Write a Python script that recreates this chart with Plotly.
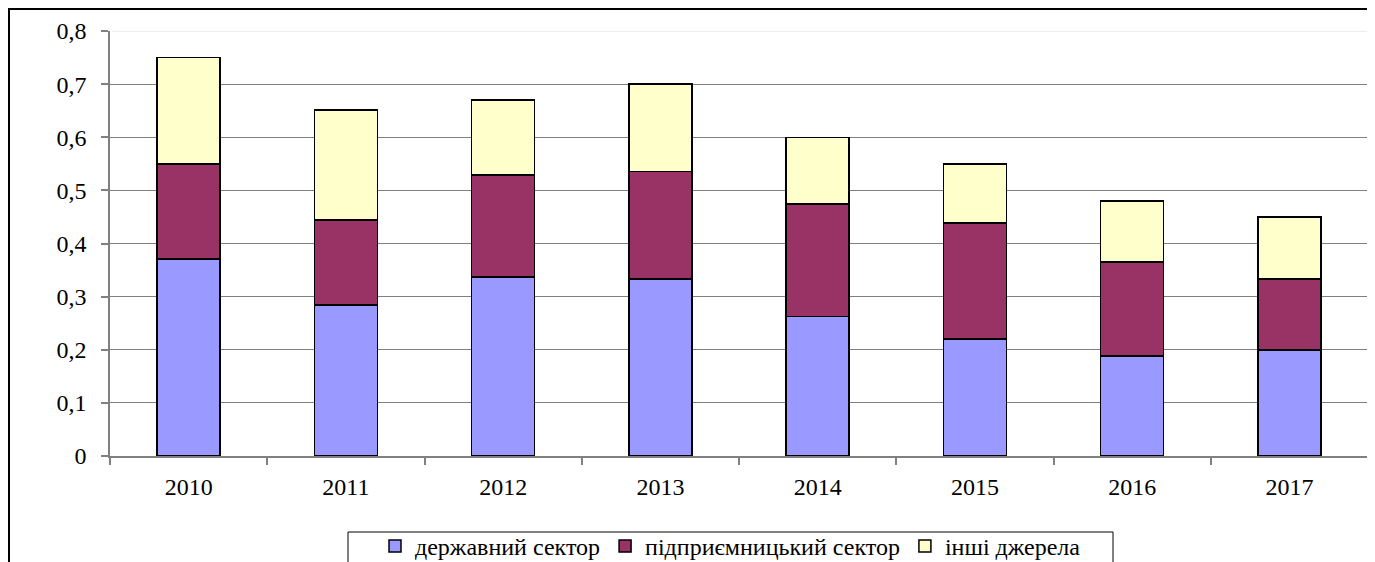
import plotly.graph_objects as go

years = ["2010", "2011", "2012", "2013", "2014", "2015", "2016", "2017"]
gov_sector = [0.371, 0.284, 0.337, 0.333, 0.263, 0.220, 0.188, 0.200]
business_sector = [0.179, 0.160, 0.192, 0.203, 0.211, 0.219, 0.177, 0.133]
other_sources = [0.200, 0.207, 0.141, 0.164, 0.126, 0.111, 0.115, 0.117]

series_names = ["державний сектор", "підприємницький сектор", "інші джерела"]
series_colors = ["#9999FF", "#993366", "#FFFFCC"]

y_tickvals = [0, 0.1, 0.2, 0.3, 0.4, 0.5, 0.6, 0.7, 0.8]
y_ticktext = ["0", "0,1", "0,2", "0,3", "0,4", "0,5", "0,6", "0,7", "0,8"]

FONT = "Liberation Serif"
FS = 24

fig = go.Figure()
for name, vals, col in zip(series_names, [gov_sector, business_sector, other_sources], series_colors):
    fig.add_trace(go.Bar(
        x=years, y=vals, name=name,
        marker=dict(color=col, line=dict(color="#000000", width=1.5)),
    ))

W, H = 1375, 562
L, R, T, B = 102, 15, 23, 114
pw, ph = W - L - R, H - T - B

def px_x(p):
    return (p - L) / pw

def px_y(p):
    return (H - B - p) / ph

fig.update_layout(
    width=W, height=H,
    margin=dict(l=L, r=R, t=T, b=B, autoexpand=False),
    barmode="stack",
    bargap=0.6,
    plot_bgcolor="white",
    paper_bgcolor="white",
    font=dict(family=FONT, size=FS, color="#000000"),
    showlegend=True,
    legend=dict(
        orientation="h",
        x=px_x(722.5), xanchor="center",
        y=px_y(516), yanchor="top",
        borderwidth=0,
        bgcolor="rgba(0,0,0,0)",
        font=dict(family=FONT, size=FS, color="#000000"),
        traceorder="normal",
        itemwidth=30,
    ),
    xaxis=dict(
        type="category",
        showgrid=False,
        showline=True, linecolor="#808080", linewidth=1.5,
        ticks="outside", tickson="boundaries", ticklen=7, tickcolor="#808080", tickwidth=1.5,
        ticklabelstandoff=8,
        tickfont=dict(family=FONT, size=FS, color="#000000"),
    ),
    yaxis=dict(
        range=[0, 0.8],
        tickvals=y_tickvals, ticktext=y_ticktext,
        showgrid=True, gridcolor="#808080", gridwidth=1.3,
        showline=True, linecolor="#808080", linewidth=1.5,
        ticks="outside", ticklen=7, tickcolor="#808080", tickwidth=1.5,
        ticklabelstandoff=10,
        zeroline=False,
        tickfont=dict(family=FONT, size=FS, color="#000000"),
    ),
    shapes=[
        dict(type="line", xref="paper", yref="y", x0=0.002, x1=1, y0=0.8, y1=0.8,
             line=dict(color="#e6e6e6", width=1.3), layer="above"),
        dict(type="rect", xref="paper", yref="paper",
             x0=px_x(1), x1=px_x(1361), y0=px_y(580), y1=px_y(1),
             line=dict(color="#000000", width=2), fillcolor="rgba(0,0,0,0)", layer="above"),
        dict(type="rect", xref="paper", yref="paper",
             x0=px_x(340), x1=px_x(1105), y0=px_y(580), y1=px_y(524),
             line=dict(color="#000000", width=1), fillcolor="rgba(0,0,0,0)", layer="above"),
    ],
)

fig.write_html("out.html")
